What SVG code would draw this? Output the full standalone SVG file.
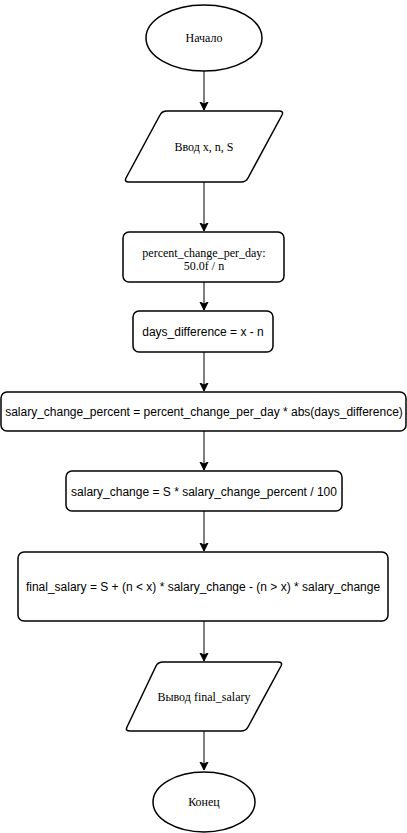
<svg xmlns="http://www.w3.org/2000/svg" width="407" height="833" viewBox="0 0 407 833">
<style>
.s{fill:#fff;stroke:#000;stroke-width:1.5}
.c{fill:none;stroke:#000;stroke-width:1}
.t{font-family:"Liberation Sans",Arial,sans-serif;font-size:12px;fill:#000;text-anchor:middle;dominant-baseline:central}
.r{font-family:"Liberation Serif","Times New Roman",serif;font-size:12px;fill:#000;text-anchor:middle;dominant-baseline:central}
</style>
<defs>
<marker id="a" markerWidth="10" markerHeight="10" refX="8" refY="5" orient="auto" markerUnits="userSpaceOnUse">
<path d="M0,1 L8,5 L0,9 L2,5 Z" fill="#000" stroke="#000" stroke-width="1"/>
</marker>
</defs>
<rect width="407" height="833" fill="#fff"/>
<g id="connectors">
<line class="c" x1="204" y1="71" x2="204" y2="110" marker-end="url(#a)"/>
<line class="c" x1="204" y1="182" x2="204" y2="231" marker-end="url(#a)"/>
<line class="c" x1="204" y1="282" x2="204" y2="310" marker-end="url(#a)"/>
<line class="c" x1="204" y1="352" x2="204" y2="391" marker-end="url(#a)"/>
<line class="c" x1="204" y1="431" x2="204" y2="470" marker-end="url(#a)"/>
<line class="c" x1="204" y1="511" x2="204" y2="551" marker-end="url(#a)"/>
<line class="c" x1="204" y1="621" x2="204" y2="661" marker-end="url(#a)"/>
<line class="c" x1="204" y1="731" x2="204" y2="770" marker-end="url(#a)"/>
</g>
<g id="start">
<ellipse class="s" cx="204" cy="38" rx="58" ry="33"/>
<text class="r" x="204" y="38">Начало</text>
</g>
<g id="input">
<path class="s" d="M167,111 L279,111 Q284,111 282,115 L248,178 Q246,182 241,182 L129,182 Q124,182 126,178 L160,115 Q162,111 167,111 Z"/>
<text class="r" x="204" y="147">Ввод x, n, S</text>
</g>
<g id="percent">
<rect class="s" x="123" y="232" width="161" height="50" rx="6"/>
<text class="r" x="204" y="253">percent_change_per_day:</text>
<text class="r" x="204" y="266">50.0f / n</text>
</g>
<g id="days">
<rect class="s" x="133" y="311" width="140" height="41" rx="6"/>
<text class="t" x="203" y="332">days_difference = x - n</text>
</g>
<g id="scp">
<rect class="s" x="1" y="392" width="405" height="39" rx="6"/>
<text class="t" x="204" y="412">salary_change_percent = percent_change_per_day * abs(days_difference)</text>
</g>
<g id="sc">
<rect class="s" x="66" y="471" width="276" height="40" rx="6"/>
<text class="t" x="204" y="492">salary_change = S * salary_change_percent / 100</text>
</g>
<g id="final">
<rect class="s" x="18" y="552" width="370" height="69" rx="6"/>
<text class="t" x="203" y="587">final_salary = S + (n &lt; x) * salary_change - (n &gt; x) * salary_change</text>
</g>
<g id="output">
<path class="s" d="M163,662 L278,662 Q283,662 281,666 L248,727 Q246,731 241,731 L130,731 Q125,731 127,727 L156,666 Q158,662 163,662 Z"/>
<text class="r" x="204" y="697">Вывод final_salary</text>
</g>
<g id="end">
<ellipse class="s" cx="204" cy="802" rx="51" ry="30"/>
<text class="r" x="204" y="802">Конец</text>
</g>
</svg>
